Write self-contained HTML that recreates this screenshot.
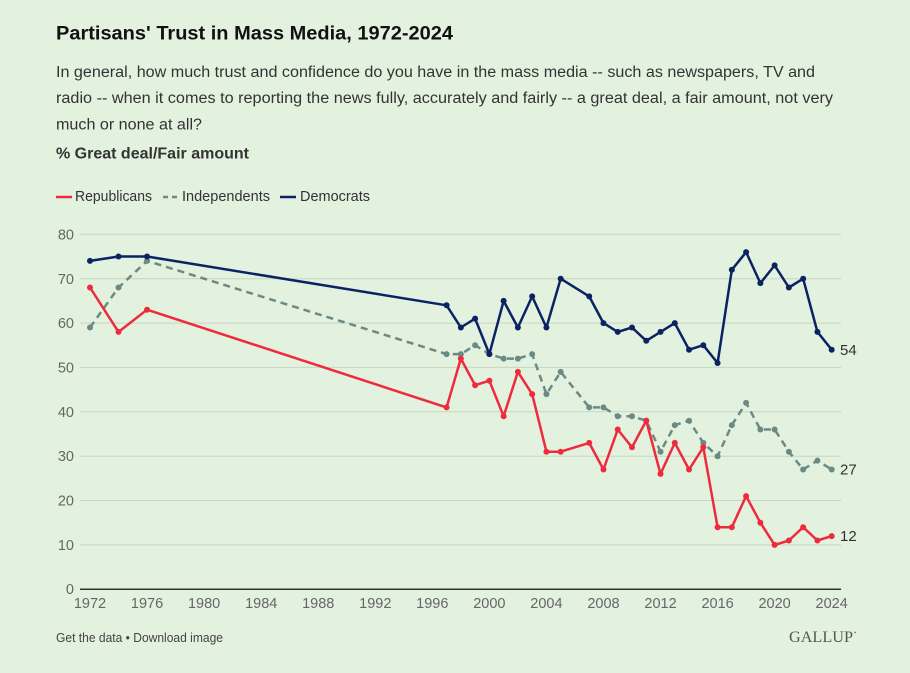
<!DOCTYPE html>
<html><head><meta charset="utf-8">
<style>
html,body{margin:0;padding:0;background:#e3f1df;}
svg{display:block;}
text{font-family:"Liberation Sans",Arial,sans-serif;}
</style></head>
<body>
<svg width="910" height="673" viewBox="0 0 910 673" xmlns="http://www.w3.org/2000/svg">
<rect x="0" y="0" width="910" height="673" fill="#e3f1df"/>
<!-- Title & subtitle -->
<text x="56" y="39.5" font-size="19.5" font-weight="bold" fill="#111" textLength="397" lengthAdjust="spacingAndGlyphs">Partisans' Trust in Mass Media, 1972-2024</text>
<text x="56" y="77" font-size="15.5" fill="#333" textLength="759" lengthAdjust="spacingAndGlyphs">In general, how much trust and confidence do you have in the mass media -- such as newspapers, TV and</text>
<text x="56" y="103" font-size="15.5" fill="#333" textLength="777" lengthAdjust="spacingAndGlyphs">radio -- when it comes to reporting the news fully, accurately and fairly -- a great deal, a fair amount, not very</text>
<text x="56" y="129.5" font-size="15.5" fill="#333" textLength="146" lengthAdjust="spacingAndGlyphs">much or none at all?</text>
<text x="56" y="158.5" font-size="15.5" font-weight="bold" fill="#333" textLength="193" lengthAdjust="spacingAndGlyphs">% Great deal/Fair amount</text>
<!-- Legend -->
<line x1="56" y1="197" x2="72" y2="197" stroke="#ef2a3d" stroke-width="2.5"/>
<text x="75" y="201" font-size="14.5" fill="#333" textLength="77" lengthAdjust="spacingAndGlyphs">Republicans</text>
<line x1="163" y1="197" x2="177" y2="197" stroke="#6b8a84" stroke-width="2.5" stroke-dasharray="5,4"/>
<text x="182" y="201" font-size="14.5" fill="#333" textLength="88" lengthAdjust="spacingAndGlyphs">Independents</text>
<line x1="280" y1="197" x2="296" y2="197" stroke="#0b2263" stroke-width="2.5"/>
<text x="300" y="201" font-size="14.5" fill="#333" textLength="70" lengthAdjust="spacingAndGlyphs">Democrats</text>
<!-- Gridlines -->
<g stroke="#c7d5c3" stroke-width="1">
<line x1="80" y1="544.9" x2="841" y2="544.9"/>
<line x1="80" y1="500.5" x2="841" y2="500.5"/>
<line x1="80" y1="456.2" x2="841" y2="456.2"/>
<line x1="80" y1="411.8" x2="841" y2="411.8"/>
<line x1="80" y1="367.4" x2="841" y2="367.4"/>
<line x1="80" y1="323.1" x2="841" y2="323.1"/>
<line x1="80" y1="278.7" x2="841" y2="278.7"/>
<line x1="80" y1="234.3" x2="841" y2="234.3"/>
</g>
<line x1="80" y1="589.3" x2="841" y2="589.3" stroke="#333" stroke-width="1.5"/>
<!-- Y labels -->
<g font-size="14.5" fill="#666" text-anchor="end">
<text x="74" y="594">0</text>
<text x="74" y="550">10</text>
<text x="74" y="505.5">20</text>
<text x="74" y="461">30</text>
<text x="74" y="417">40</text>
<text x="74" y="372.5">50</text>
<text x="74" y="328">60</text>
<text x="74" y="284">70</text>
<text x="74" y="239.5">80</text>
</g>
<!-- X labels -->
<g font-size="14.5" fill="#666" text-anchor="middle">
<text x="90" y="608">1972</text>
<text x="147.05" y="608">1976</text>
<text x="204.1" y="608">1980</text>
<text x="261.2" y="608">1984</text>
<text x="318.2" y="608">1988</text>
<text x="375.3" y="608">1992</text>
<text x="432.3" y="608">1996</text>
<text x="489.36" y="608">2000</text>
<text x="546.42" y="608">2004</text>
<text x="603.47" y="608">2008</text>
<text x="660.52" y="608">2012</text>
<text x="717.58" y="608">2016</text>
<text x="774.63" y="608">2020</text>
<text x="831.68" y="608">2024</text>
</g>
<!-- Independents -->
<polyline fill="none" stroke="#6b8a84" stroke-width="2.5" stroke-dasharray="7,5" stroke-linejoin="round" points="90,327.5 118.53,287.5 147.05,260.9 446.58,354.1 460.84,354.1 475.10,345.2 489.36,354.1 503.63,358.6 517.89,358.6 532.16,354.1 546.42,394.1 560.68,371.9 589.21,407.4 603.47,407.4 617.73,416.2 632.00,416.2 646.26,420.7 660.52,451.7 674.79,425.1 689.05,420.7 703.31,442.9 717.58,456.2 731.84,425.1 746.10,402.9 760.37,429.5 774.63,429.5 788.89,451.7 803.16,469.5 817.42,460.6 831.68,469.5"/>
<g fill="#6b8a84">
<circle cx="90" cy="327.5" r="3"/><circle cx="118.53" cy="287.5" r="3"/><circle cx="147.05" cy="260.9" r="3"/><circle cx="446.58" cy="354.1" r="3"/><circle cx="460.84" cy="354.1" r="3"/><circle cx="475.10" cy="345.2" r="3"/><circle cx="489.36" cy="354.1" r="3"/><circle cx="503.63" cy="358.6" r="3"/><circle cx="517.89" cy="358.6" r="3"/><circle cx="532.16" cy="354.1" r="3"/><circle cx="546.42" cy="394.1" r="3"/><circle cx="560.68" cy="371.9" r="3"/><circle cx="589.21" cy="407.4" r="3"/><circle cx="603.47" cy="407.4" r="3"/><circle cx="617.73" cy="416.2" r="3"/><circle cx="632.00" cy="416.2" r="3"/><circle cx="646.26" cy="420.7" r="3"/><circle cx="660.52" cy="451.7" r="3"/><circle cx="674.79" cy="425.1" r="3"/><circle cx="689.05" cy="420.7" r="3"/><circle cx="703.31" cy="442.9" r="3"/><circle cx="717.58" cy="456.2" r="3"/><circle cx="731.84" cy="425.1" r="3"/><circle cx="746.10" cy="402.9" r="3"/><circle cx="760.37" cy="429.5" r="3"/><circle cx="774.63" cy="429.5" r="3"/><circle cx="788.89" cy="451.7" r="3"/><circle cx="803.16" cy="469.5" r="3"/><circle cx="817.42" cy="460.6" r="3"/><circle cx="831.68" cy="469.5" r="3"/>
</g>
<!-- Republicans -->
<polyline fill="none" stroke="#ef2a3d" stroke-width="2.5" stroke-linejoin="round" points="90,287.5 118.53,331.9 147.05,309.7 446.58,407.4 460.84,358.6 475.10,385.2 489.36,380.7 503.63,416.2 517.89,371.9 532.16,394.1 546.42,451.7 560.68,451.7 589.21,442.9 603.47,469.5 617.73,429.5 632.00,447.3 646.26,420.7 660.52,473.9 674.79,442.9 689.05,469.5 703.31,447.3 717.58,527.2 731.84,527.2 746.10,496.1 760.37,522.7 774.63,544.9 788.89,540.5 803.16,527.2 817.42,540.5 831.68,536.1"/>
<g fill="#ef2a3d">
<circle cx="90" cy="287.5" r="3"/><circle cx="118.53" cy="331.9" r="3"/><circle cx="147.05" cy="309.7" r="3"/><circle cx="446.58" cy="407.4" r="3"/><circle cx="460.84" cy="358.6" r="3"/><circle cx="475.10" cy="385.2" r="3"/><circle cx="489.36" cy="380.7" r="3"/><circle cx="503.63" cy="416.2" r="3"/><circle cx="517.89" cy="371.9" r="3"/><circle cx="532.16" cy="394.1" r="3"/><circle cx="546.42" cy="451.7" r="3"/><circle cx="560.68" cy="451.7" r="3"/><circle cx="589.21" cy="442.9" r="3"/><circle cx="603.47" cy="469.5" r="3"/><circle cx="617.73" cy="429.5" r="3"/><circle cx="632.00" cy="447.3" r="3"/><circle cx="646.26" cy="420.7" r="3"/><circle cx="660.52" cy="473.9" r="3"/><circle cx="674.79" cy="442.9" r="3"/><circle cx="689.05" cy="469.5" r="3"/><circle cx="703.31" cy="447.3" r="3"/><circle cx="717.58" cy="527.2" r="3"/><circle cx="731.84" cy="527.2" r="3"/><circle cx="746.10" cy="496.1" r="3"/><circle cx="760.37" cy="522.7" r="3"/><circle cx="774.63" cy="544.9" r="3"/><circle cx="788.89" cy="540.5" r="3"/><circle cx="803.16" cy="527.2" r="3"/><circle cx="817.42" cy="540.5" r="3"/><circle cx="831.68" cy="536.1" r="3"/>
</g>
<!-- Democrats -->
<polyline fill="none" stroke="#0b2263" stroke-width="2.5" stroke-linejoin="round" points="90,260.9 118.53,256.5 147.05,256.5 446.58,305.3 460.84,327.5 475.10,318.6 489.36,354.1 503.63,300.9 517.89,327.5 532.16,296.4 546.42,327.5 560.68,278.7 589.21,296.4 603.47,323.1 617.73,331.9 632.00,327.5 646.26,340.8 660.52,331.9 674.79,323.1 689.05,349.7 703.31,345.2 717.58,363.0 731.84,269.8 746.10,252.1 760.37,283.1 774.63,265.4 788.89,287.5 803.16,278.7 817.42,331.9 831.68,349.7"/>
<g fill="#0b2263">
<circle cx="90" cy="260.9" r="3"/><circle cx="118.53" cy="256.5" r="3"/><circle cx="147.05" cy="256.5" r="3"/><circle cx="446.58" cy="305.3" r="3"/><circle cx="460.84" cy="327.5" r="3"/><circle cx="475.10" cy="318.6" r="3"/><circle cx="489.36" cy="354.1" r="3"/><circle cx="503.63" cy="300.9" r="3"/><circle cx="517.89" cy="327.5" r="3"/><circle cx="532.16" cy="296.4" r="3"/><circle cx="546.42" cy="327.5" r="3"/><circle cx="560.68" cy="278.7" r="3"/><circle cx="589.21" cy="296.4" r="3"/><circle cx="603.47" cy="323.1" r="3"/><circle cx="617.73" cy="331.9" r="3"/><circle cx="632.00" cy="327.5" r="3"/><circle cx="646.26" cy="340.8" r="3"/><circle cx="660.52" cy="331.9" r="3"/><circle cx="674.79" cy="323.1" r="3"/><circle cx="689.05" cy="349.7" r="3"/><circle cx="703.31" cy="345.2" r="3"/><circle cx="717.58" cy="363.0" r="3"/><circle cx="731.84" cy="269.8" r="3"/><circle cx="746.10" cy="252.1" r="3"/><circle cx="760.37" cy="283.1" r="3"/><circle cx="774.63" cy="265.4" r="3"/><circle cx="788.89" cy="287.5" r="3"/><circle cx="803.16" cy="278.7" r="3"/><circle cx="817.42" cy="331.9" r="3"/><circle cx="831.68" cy="349.7" r="3"/>
</g>
<!-- End labels -->
<g font-size="15" fill="#333">
<text x="840" y="354.8">54</text>
<text x="840" y="474.6">27</text>
<text x="840" y="541.2">12</text>
</g>
<!-- Footer -->
<text x="56" y="642" font-size="12.5" fill="#444" textLength="167" lengthAdjust="spacingAndGlyphs">Get the data • Download image</text>
<text x="789" y="642" style="font-family:'Liberation Serif','Times New Roman',serif;" font-size="15.5" fill="#555" textLength="64" lengthAdjust="spacingAndGlyphs">GALLUP</text>
<circle cx="855" cy="632.5" r="0.9" fill="#777"/>
</svg>
</body></html>
